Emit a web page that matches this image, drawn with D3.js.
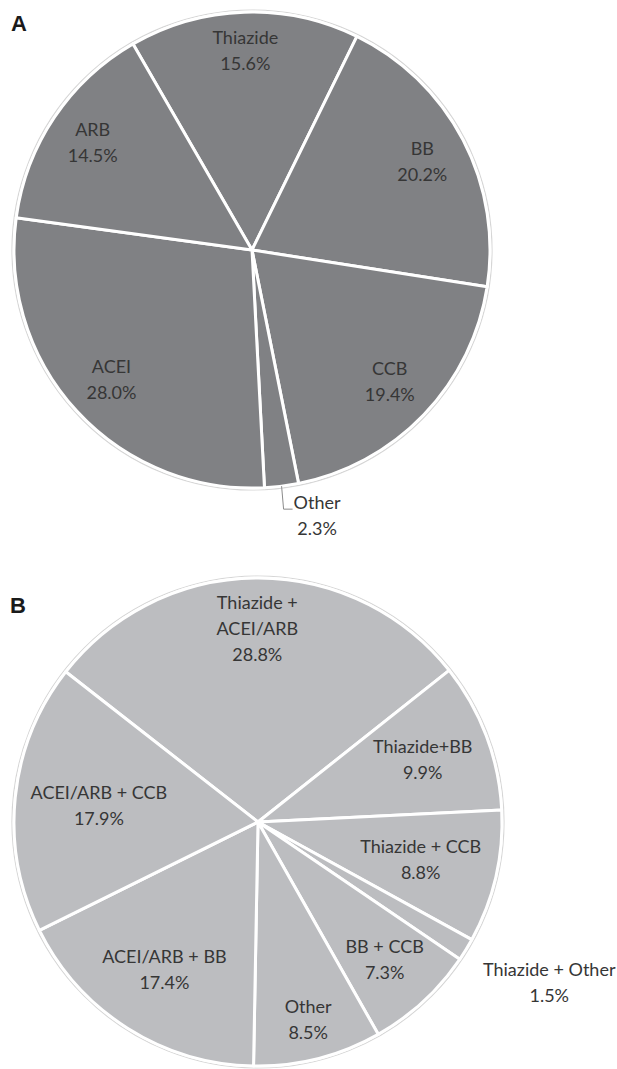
<!DOCTYPE html>
<html>
<head>
<meta charset="utf-8">
<script src="https://cdn.jsdelivr.net/npm/d3@7.9.0/dist/d3.min.js"></script>
<style>
  body { margin: 0; background: #fff; }
  .lbl { font-family: Lato, "Open Sans", sans-serif; font-size: 18px; fill: #363636; }
  .panel { font-family: "Liberation Sans", Arial, sans-serif; font-weight: bold; font-size: 22px; fill: #1a1a1a; }
</style>
</head>
<body>
<svg id="chart" width="617" height="1069"></svg>
<script>
// --- Panel A: single drug class ---
const classesA = [['Thiazide'], ['BB'], ['CCB'], ['Other'], ['ACEI'], ['ARB']];
const sharesA = [15.6, 20.2, 19.4, 2.3, 28.0, 14.5];

// --- Panel B: two-drug combinations ---
const classesB = [['Thiazide +', 'ACEI/ARB'], ['Thiazide+BB'], ['Thiazide + CCB'], ['Thiazide + Other'],
                  ['BB + CCB'], ['Other'], ['ACEI/ARB + BB'], ['ACEI/ARB + CCB']];
const sharesB = [28.8, 9.9, 8.8, 1.5, 7.3, 8.5, 17.4, 17.9];

const svg = d3.select('#chart');
const LH = 26; // line height of labels

function drawPie({ cx, cy, r, start, fill, names, values, outside, leader }) {
  const data = names.map((n, i) => ({ name: n, value: values[i], i }));
  const a0 = start * Math.PI / 180;
  const pie = d3.pie().sort(null).value(d => d.value).startAngle(a0).endAngle(a0 + 2 * Math.PI);
  const arcs = pie(data);
  const arc = d3.arc().innerRadius(0).outerRadius(r);
  const g = svg.append('g').attr('transform', `translate(${cx},${cy})`);

  // faint rim
  g.append('circle').attr('r', r + 2).attr('fill', 'none').attr('stroke', '#d6d6d6').attr('stroke-width', 1.2);

  g.selectAll('path').data(arcs).join('path')
    .attr('d', arc)
    .attr('fill', fill)
    .attr('stroke', '#fff')
    .attr('stroke-width', 3)
    .attr('stroke-linejoin', 'round');

  arcs.forEach(d => {
    const lines = [...d.data.name, d.data.value.toFixed(1) + '%'];
    const t = g.append('text').attr('class', 'lbl').attr('text-anchor', 'middle');
    const spans = lines.map(l => t.append('tspan').text(l));
    const w = d3.max(spans, s => s.node().getComputedTextLength());
    const h = (lines.length - 1) * LH + 20;
    const mid = (d.startAngle + d.endAngle) / 2;
    const sx = Math.sin(mid), sy = -Math.cos(mid);
    let x, y;

    if (outside.includes(d.data.i)) {
      if (leader) {
        // elbow leader from the rim straight down, then right
        const p0 = [r * sx, r * sy];
        const p1 = [p0[0] + 2, p0[1] + 23];
        const p2 = [p1[0] + 9, p1[1]];
        g.append('path').attr('d', d3.line()([p0, p1, p2]))
          .attr('fill', 'none').attr('stroke', '#8a8a8a').attr('stroke-width', 1);
        x = p2[0] + 1 + w / 2;
        y = p2[1] - 6 + (lines.length - 1) * LH / 2;
      } else {
        const p = [(r + 20) * sx, (r + 20) * sy];
        x = p[0] + w / 2;
        y = p[1] + 10 + (lines.length - 1) * LH / 2;
      }
    } else {
      // pull label inwards until its box fits within the circle
      const hw = w / 2 + 4, hh = h / 2 + 2, lim = r - 8;
      for (let dist = r * 0.84; dist > 0; dist -= 1) {
        x = dist * sx; y = dist * sy;
        const ok = [[-1, -1], [1, -1], [-1, 1], [1, 1]]
          .every(([u, v]) => Math.hypot(x + u * hw, y + v * hh) <= lim);
        if (ok) break;
      }
    }
    spans.forEach((s, k) => s.attr('x', x).attr('y', y + (k - (lines.length - 1) / 2) * LH).attr('dy', '0.35em'));
  });
}

drawPie({ cx: 252, cy: 250, r: 238, start: -30, fill: '#808184',
          names: classesA, values: sharesA, outside: [3], leader: true });
drawPie({ cx: 258, cy: 822, r: 244, start: -52, fill: '#bcbdc0',
          names: classesB, values: sharesB, outside: [3], leader: false });

svg.append('text').attr('class', 'panel').attr('x', 11).attr('y', 31).text('A');
svg.append('text').attr('class', 'panel').attr('x', 10).attr('y', 613).text('B');
</script>
</body>
</html>
